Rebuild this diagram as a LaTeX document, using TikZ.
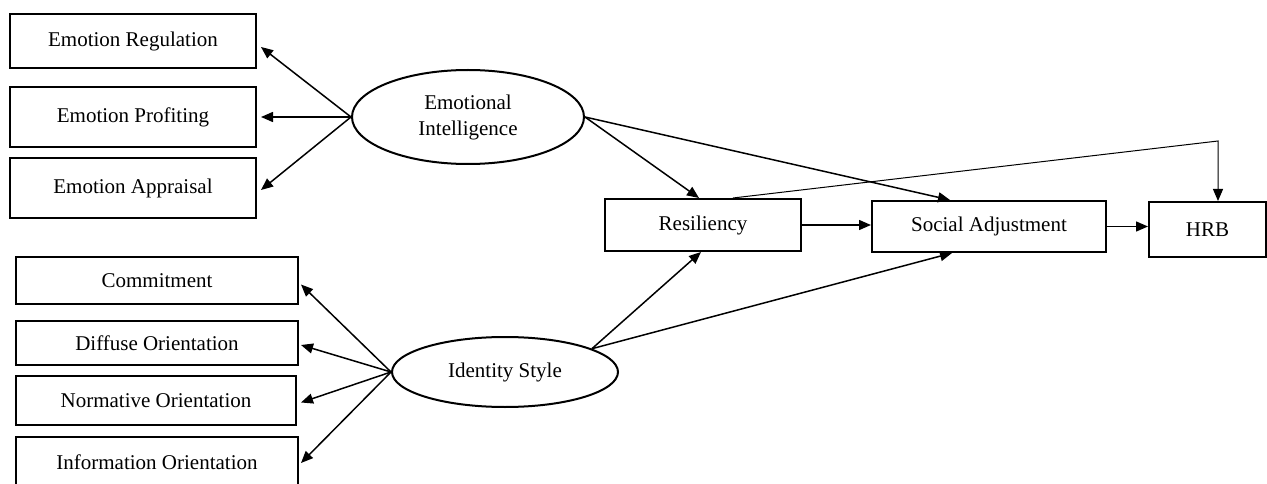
\documentclass[tikz,border=0pt]{standalone}
\usepackage{fontspec}
\setmainfont{Liberation Serif}
\usetikzlibrary{arrows.meta,shapes.geometric}
\begin{document}
\begin{tikzpicture}[x=1pt,y=-1pt,
  font=\fontsize{21}{26}\selectfont,
  box/.style={draw,line width=2pt,rectangle,inner sep=0pt},
  latent/.style={draw,line width=2pt,ellipse,inner sep=0pt,align=center},
  link/.style={line width=1.5pt,-{Triangle[length=12pt,width=10pt]}},
  thinlink/.style={line width=1pt,-{Triangle[length=12pt,width=10pt]}}]
\useasboundingbox (0,0) rectangle (1267,484);
% emotional intelligence indicators
\node[box,minimum width=246pt,minimum height=54pt] (er) at (133,41) {Emotion Regulation};
\node[box,minimum width=246pt,minimum height=60pt] (ep) at (133,117) {Emotion Profiting};
\node[box,minimum width=246pt,minimum height=60pt] (ea) at (133,188) {Emotion Appraisal};
\node[latent,minimum width=232pt,minimum height=94pt] (ei) at (468,117) {Emotional\\Intelligence};
% identity style indicators
\node[box,minimum width=282pt,minimum height=47pt] (cm) at (157,280.5) {Commitment};
\node[box,minimum width=282pt,minimum height=44pt] (df) at (157,343) {Diffuse Orientation};
\node[box,minimum width=280pt,minimum height=49pt] (nm) at (156,400.5) {Normative Orientation};
\node[box,minimum width=282pt,minimum height=50pt] (inf) at (157,462) {Information Orientation};
\node[latent,minimum width=226pt,minimum height=70pt] (is) at (505,372) {Identity Style};
% outcomes
\node[box,minimum width=196pt,minimum height=52pt] (res) at (703,225) {Resiliency};
\node[box,minimum width=234pt,minimum height=51pt] (sa) at (989,226.5) {Social Adjustment};
\node[box,minimum width=117pt,minimum height=55pt] (hrb) at (1207.5,229.5) {HRB};
\coordinate (bend) at (1218,141);
% loadings
\draw[link] (ei.west) -- ([shift={(4,6)}]er.east);
\draw[link] (ei.west) -- ([shift={(4,0)}]ep.east);
\draw[link] (ei.west) -- ([shift={(4,2)}]ea.east);
\draw[link] (is.west) -- ([shift={(2,4)}]cm.east);
\draw[link] (is.west) -- ([shift={(2,2)}]df.east);
\draw[link] (is.west) -- ([shift={(4,2)}]nm.east);
\draw[link] (is.west) -- ([shift={(2,1)}]inf.east);
% structural paths
\draw[link] (ei.east) -- ([xshift=-4]res.north);
\draw[link] (ei.east) -- ([xshift=-39]sa.north);
\draw[link] (is.15) -- ([xshift=-2]res.south);
\draw[link] (is.15) -- ([xshift=-37]sa.south);
\draw[link] (res.east) -- (sa.west |- res.east);
\draw[link] (sa.east) -- (hrb.west |- sa.east);
\draw[thinlink] ([xshift=30]res.north) -- (bend) -- ([xshift=10.5]hrb.north);
\end{tikzpicture}
\end{document}
